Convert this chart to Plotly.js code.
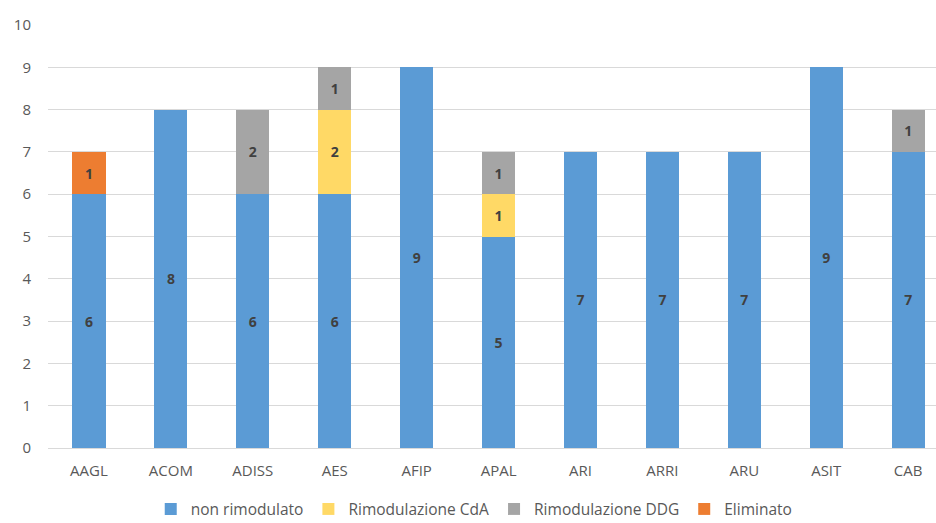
<!DOCTYPE html>
<html>
<head>
<meta charset="utf-8">
<script src="https://cdn.plot.ly/plotly-3.0.1.min.js"></script>
<style>html,body{margin:0;padding:0;background:#fff;}#chart{width:936px;height:523px;}</style>
</head>
<body>
<div id="chart"></div>
<script>
const categories = ["AAGL","ACOM","ADISS","AES","AFIP","APAL","ARI","ARRI","ARU","ASIT","CAB"];
const nonRimodulato = [6,8,6,6,9,5,7,7,7,9,7];
const rimodulazioneCdA = [null,null,null,2,null,1,null,null,null,null,null];
const rimodulazioneDDG = [null,null,2,1,null,1,null,null,null,null,1];
const eliminato = [1,null,null,null,null,null,null,null,null,null,null];
const seriesNames = ["non rimodulato","Rimodulazione CdA","Rimodulazione DDG","Eliminato"];
const colors = ["#5B9BD5","#FFD966","#A5A5A5","#ED7D31"];
const seriesData = [nonRimodulato, rimodulazioneCdA, rimodulazioneDDG, eliminato];

const font = "Open Sans, Liberation Sans, sans-serif";
const traces = seriesData.map((vals, i) => ({
  type: "bar",
  name: seriesNames[i],
  x: categories,
  y: vals,
  width: 0.405,
  marker: {color: colors[i], line: {width: 0}},
  text: vals.map(v => v == null ? "" : String(v)),
  texttemplate: "<b>%{text}</b>",
  textposition: "inside",
  insidetextanchor: "middle",
  textangle: 0,
  constraintext: "none",
  textfont: {family: font, size: 14, color: "#404040"},
  hoverinfo: "none"
}));

const layout = {
  width: 936, height: 523,
  margin: {l: 48, r: 0, t: 25, b: 75, autoexpand: false},
  barmode: "stack",
  paper_bgcolor: "#fff", plot_bgcolor: "#fff",
  font: {family: font, color: "#595959", size: 15},
  xaxis: {
    type: "category",
    range: [-0.5, 10.34],
    showgrid: false, zeroline: false, showline: false,
    ticks: "", tickfont: {size: 15, color: "#595959"},
    ticklabelstandoff: 12
  },
  yaxis: {
    range: [0, 10], dtick: 1,
    showgrid: true, gridcolor: "#D9D9D9", gridwidth: 1,
    zeroline: true, zerolinecolor: "#D9D9D9", zerolinewidth: 1,
    showline: false, ticks: "",
    tickfont: {size: 15, color: "#595959"},
    ticklabelstandoff: 16
  },
  legend: {
    orientation: "h", x: 0.48, xanchor: "center", y: -0.145, yanchor: "middle",
    font: {size: 15.5, color: "#595959"}, itemwidth: 30, traceorder: "normal"
  },
  showlegend: true
};
Plotly.newPlot("chart", traces, layout, {displayModeBar: false, staticPlot: true});
</script>
</body>
</html>
